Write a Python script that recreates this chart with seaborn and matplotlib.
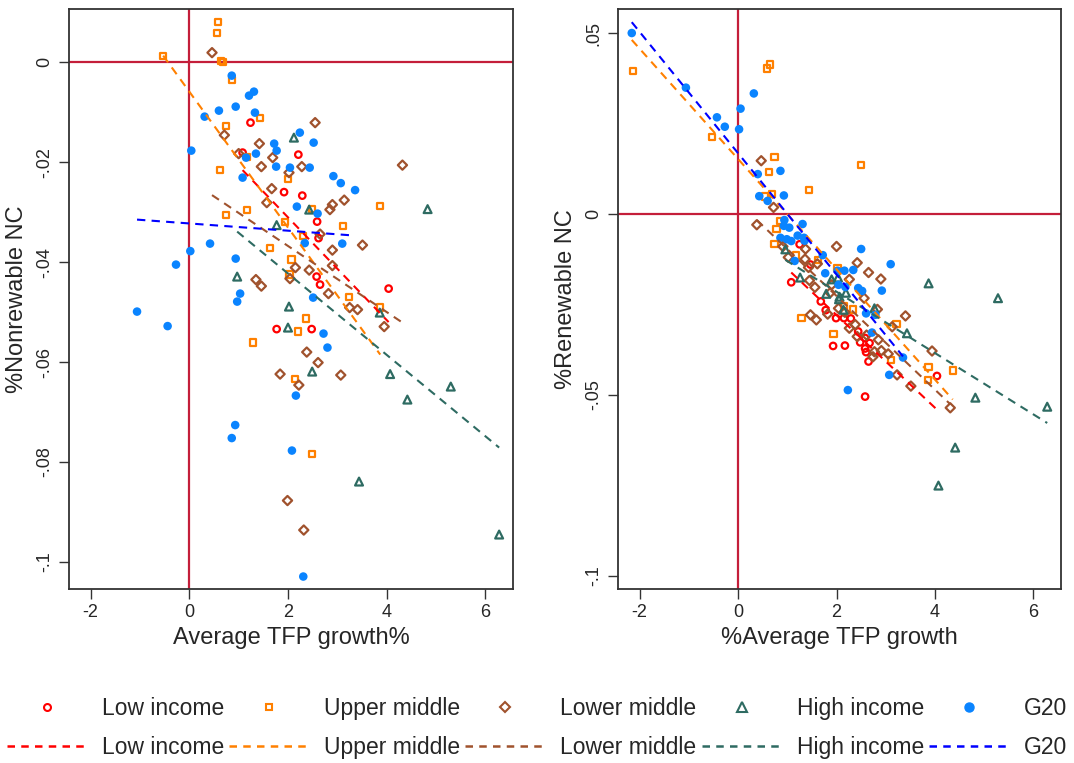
import numpy as np
import pandas as pd
import matplotlib
matplotlib.use("Agg")
import matplotlib.pyplot as plt
from matplotlib.lines import Line2D
import seaborn as sns

# ---- data ----
groups = ["Low income", "Upper middle", "Lower middle", "High income", "G20"]

# left panel: average TFP growth (%) vs %Nonrewable NC
low_l_x = [1.24, 1.08, 2.21, 1.92, 2.29, 2.59, 2.62, 2.58, 2.65, 4.04, 1.77, 2.48]
low_l_y = [-0.0121, -0.0181, -0.0185, -0.0260, -0.0267, -0.0319, -0.0352, -0.0429, -0.0445, -0.0453, -0.0534, -0.0534]

up_l_x = [-0.53, 0.58, 0.56, 0.64, 0.69, 0.87, 1.44, 0.75, 1.17, 0.62, 2.00, 1.17, 0.74, 2.49,
          1.94, 2.31, 1.63, 2.07, 2.03, 3.11, 3.87, 3.23, 3.87, 2.36, 2.20, 1.29, 2.14, 2.48]
up_l_y = [0.0013, 0.0080, 0.0059, 0.0003, 0.0000, -0.0035, -0.0112, -0.0127, -0.0190, -0.0216, -0.0234,
          -0.0295, -0.0305, -0.0294, -0.0319, -0.0347, -0.0372, -0.0395, -0.0425, -0.0328, -0.0287,
          -0.0470, -0.0491, -0.0513, -0.0539, -0.0561, -0.0634, -0.0784]

lm_l_x = [0.46, 0.71, 2.55, 1.42, 1.00, 1.69, 1.46, 2.28, 2.02, 4.32, 1.67, 1.57, 3.14, 2.90, 2.85, 2.65,
          3.51, 2.90, 2.15, 2.43, 2.04, 2.90, 1.35, 1.46, 2.82, 3.25, 3.41, 3.95, 2.38, 2.61, 1.84, 2.22,
          3.07, 1.99, 2.32]
lm_l_y = [0.0019, -0.0146, -0.0121, -0.0163, -0.0183, -0.0191, -0.0209, -0.0209, -0.0221, -0.0206,
          -0.0253, -0.0281, -0.0276, -0.0285, -0.0295, -0.0344, -0.0366, -0.0376, -0.0411, -0.0416,
          -0.0433, -0.0407, -0.0435, -0.0448, -0.0463, -0.0491, -0.0495, -0.0529, -0.0580, -0.0601,
          -0.0624, -0.0646, -0.0626, -0.0877, -0.0936]

hi_l_x = [2.12, 2.43, 1.77, 4.83, 0.97, 2.02, 2.00, 3.86, 2.49, 4.07, 5.30, 4.42, 3.44, 6.28]
hi_l_y = [-0.0151, -0.0295, -0.0326, -0.0294, -0.0429, -0.0489, -0.0531, -0.0501, -0.0619, -0.0624,
          -0.0649, -0.0675, -0.0839, -0.0945]

g20_l_x = [0.86, 1.21, 1.31, 0.31, 0.60, 0.94, 1.33, 2.24, 2.52, 0.04, 1.72, 1.77, 1.15, 1.35, 1.76,
           2.04, 2.44, 1.08, 2.92, 3.07, 3.36, 2.18, 2.60, 2.34, 3.10, 0.42, 0.02, -0.27, 0.94, 1.03,
           0.97, 2.51, -1.06, -0.44, 2.72, 2.80, 2.16, 0.93, 0.86, 2.08, 2.31]
g20_l_y = [-0.0027, -0.0067, -0.0059, -0.0109, -0.0097, -0.0089, -0.0101, -0.0141, -0.0161, -0.0177,
           -0.0163, -0.0177, -0.0191, -0.0183, -0.0209, -0.0211, -0.0211, -0.0231, -0.0228, -0.0242,
           -0.0256, -0.0289, -0.0303, -0.0362, -0.0363, -0.0363, -0.0378, -0.0405, -0.0393, -0.0463,
           -0.0479, -0.0471, -0.0499, -0.0528, -0.0543, -0.0571, -0.0667, -0.0726, -0.0752, -0.0777,
           -0.1029]

# linear fits (end points)
fit_l_x = {"Low income": [1.08, 4.04], "Upper middle": [-0.53, 3.87], "Lower middle": [0.46, 4.32],
           "High income": [0.97, 6.28], "G20": [-1.06, 3.36]}
fit_l_y = {"Low income": [-0.0216, -0.0520], "Upper middle": [0.0013, -0.0585], "Lower middle": [-0.0266, -0.0521],
           "High income": [-0.0339, -0.0771], "G20": [-0.0315, -0.0347]}

# right panel: %Average TFP growth vs %Renewable NC
low_r_x = [1.25, 1.08, 1.47, 1.68, 1.78, 1.99, 2.15, 2.29, 1.93, 2.17, 2.44, 2.48, 2.58, 2.60, 2.67,
           2.58, 2.65, 4.04, 2.58]
low_r_y = [-0.0084, -0.0189, -0.0140, -0.0242, -0.0266, -0.0288, -0.0288, -0.0289, -0.0365, -0.0364,
           -0.0325, -0.0355, -0.0372, -0.0382, -0.0357, -0.0343, -0.0408, -0.0448, -0.0505]

up_r_x = [-2.13, 0.58, 0.65, -0.53, 0.74, 0.63, 2.49, 1.44, 0.55, 0.69, 0.86, 0.78, 0.74, 1.17, 1.63,
          2.02, 2.15, 2.34, 1.29, 1.94, 3.22, 3.10, 3.87, 3.86, 4.36]
up_r_y = [0.0396, 0.0402, 0.0413, 0.0212, 0.0158, 0.0115, 0.0135, 0.0067, 0.0048, 0.0055, -0.0020,
          -0.0041, -0.0083, -0.0115, -0.0128, -0.0149, -0.0254, -0.0264, -0.0288, -0.0332, -0.0305,
          -0.0404, -0.0424, -0.0459, -0.0433]

lm_r_x = [0.47, 0.72, 0.38, 0.91, 1.37, 2.00, 1.02, 1.36, 1.61, 2.42, 1.43, 2.26, 2.65, 2.90, 1.45,
          1.56, 1.87, 1.90, 2.56, 2.83, 1.47, 1.59, 1.82, 2.04, 2.17, 2.38, 2.26, 2.61, 2.42, 2.85,
          2.77, 3.40, 3.13, 2.91, 3.05, 2.74, 3.94, 3.23, 3.51, 4.31]
lm_r_y = [0.0147, 0.0018, -0.0030, -0.0090, -0.0097, -0.0090, -0.0120, -0.0125, -0.0138, -0.0135,
          -0.0148, -0.0181, -0.0162, -0.0180, -0.0184, -0.0203, -0.0218, -0.0196, -0.0233, -0.0264,
          -0.0279, -0.0293, -0.0277, -0.0261, -0.0272, -0.0306, -0.0316, -0.0335, -0.0339, -0.0348,
          -0.0381, -0.0282, -0.0312, -0.0378, -0.0387, -0.0395, -0.0379, -0.0445, -0.0476, -0.0536]

hi_r_x = [0.96, 1.26, 1.90, 1.79, 2.03, 2.06, 2.19, 2.05, 2.14, 2.77, 3.43, 3.87, 5.28, 4.82, 6.28,
          4.41, 4.07]
hi_r_y = [-0.0098, -0.0176, -0.0181, -0.0221, -0.0176, -0.0229, -0.0218, -0.0236, -0.0265, -0.0261,
          -0.0330, -0.0192, -0.0233, -0.0508, -0.0533, -0.0646, -0.0751]

g20_r_x = [-2.16, -1.06, 0.32, 0.05, -0.43, -0.27, 0.02, 0.86, 0.40, 0.43, 0.93, 0.60, 0.94, 1.31,
           0.93, 1.04, 0.86, 0.99, 1.08, 1.21, 1.34, 1.35, 1.15, 1.72, 2.50, 3.10, 1.77, 2.02, 2.16,
           2.34, 2.04, 2.18, 2.44, 2.52, 2.92, 2.60, 2.79, 2.72, 3.35, 3.07, 2.23]
g20_r_y = [0.0500, 0.0349, 0.0333, 0.0291, 0.0267, 0.0241, 0.0234, 0.0119, 0.0110, 0.0049, 0.0051,
           0.0036, -0.0017, -0.0028, -0.0033, -0.0038, -0.0066, -0.0070, -0.0075, -0.0060, -0.0066,
           -0.0074, -0.0130, -0.0114, -0.0097, -0.0139, -0.0164, -0.0157, -0.0157, -0.0155, -0.0196,
           -0.0202, -0.0205, -0.0213, -0.0212, -0.0275, -0.0279, -0.0328, -0.0397, -0.0445, -0.0487]

fit_r_x = {"Low income": [1.08, 4.04], "Upper middle": [-2.16, 4.36], "Lower middle": [0.38, 4.31],
           "High income": [0.96, 6.28], "G20": [-2.16, 3.35]}
fit_r_y = {"Low income": [-0.0162, -0.0541], "Upper middle": [0.0481, -0.0513], "Lower middle": [-0.0017, -0.0526],
           "High income": [-0.0127, -0.0578], "G20": [0.0530, -0.0394]}

left_yticks = [0, -0.02, -0.04, -0.06, -0.08, -0.1]
left_ylabels = ["0", "-.02", "-.04", "-.06", "-.08", "-.1"]
right_yticks = [0.05, 0, -0.05, -0.1]
right_ylabels = [".05", "0", "-.05", "-.1"]
xticks = [-2, 0, 2, 4, 6]

# ---- styling ----
colors = {"Low income": "#FF0000", "Upper middle": "#FF8000", "Lower middle": "#A0522D",
          "High income": "#2E6B62", "G20": "#0A84FF"}
line_colors = {"Low income": "#FF0000", "Upper middle": "#FF8000", "Lower middle": "#A0522D",
               "High income": "#2E6B62", "G20": "#0000FF"}
markers = {"Low income": "o", "Upper middle": "s", "Lower middle": "D", "High income": "^", "G20": "o"}
msize = {"Low income": 22, "Upper middle": 20, "Lower middle": 22, "High income": 32, "G20": 38}
leg_msize = {"Low income": 5, "Upper middle": 5, "Lower middle": 5, "High income": 6.5, "G20": 6.5}
ref_color = "#C41E3A"


def make_df(xs, ys):
    frames = []
    for g, x, y in zip(groups, xs, ys):
        frames.append(pd.DataFrame({"x": x, "y": y, "group": g}))
    return pd.concat(frames, ignore_index=True)


left_df = make_df([low_l_x, up_l_x, lm_l_x, hi_l_x, g20_l_x], [low_l_y, up_l_y, lm_l_y, hi_l_y, g20_l_y])
right_df = make_df([low_r_x, up_r_x, lm_r_x, hi_r_x, g20_r_x], [low_r_y, up_r_y, lm_r_y, hi_r_y, g20_r_y])

sns.set_style("white")
plt.rcParams["font.family"] = ["Liberation Sans", "DejaVu Sans"]

fig = plt.figure(figsize=(10.74, 7.63), dpi=100)
ax1 = fig.add_axes([0.0642, 0.228, 0.4134, 0.760])
ax2 = fig.add_axes([0.5754, 0.228, 0.4125, 0.760])


def draw_panel(ax, df, fit_x, fit_y, yticks, ylabels, ylim, xlabel, ylabel):
    ax.axvline(0, color=ref_color, lw=1.6, zorder=1)
    ax.axhline(0, color=ref_color, lw=1.6, zorder=1)
    for g in groups:
        sub = df[df["group"] == g]
        if g == "G20":
            sns.scatterplot(data=sub, x="x", y="y", ax=ax, marker=markers[g], s=msize[g],
                            color=colors[g], edgecolor="none", linewidth=0, zorder=3)
        else:
            sns.scatterplot(data=sub, x="x", y="y", ax=ax, marker=markers[g], s=msize[g],
                            facecolor="none", edgecolor=colors[g], linewidth=1.6, zorder=3)
    for g in groups:
        fit = pd.DataFrame({"x": fit_x[g], "y": fit_y[g]})
        sns.lineplot(data=fit, x="x", y="y", ax=ax, color=line_colors[g], lw=1.5,
                     dashes=False, zorder=4)
        ax.lines[-1].set_dashes([4, 3])
    ax.set_xlim(-2.44, 6.56)
    ax.set_ylim(*ylim)
    ax.set_xticks(xticks)
    ax.set_xticklabels([str(t) for t in xticks], fontsize=13)
    ax.set_yticks(yticks)
    ax.set_yticklabels(ylabels, fontsize=13, rotation=90, va="center")
    ax.tick_params(axis="both", length=7, width=1, color="#333333", direction="out",
                   bottom=True, left=True, top=False, right=False, pad=4)
    ax.set_xlabel(xlabel, fontsize=17, labelpad=4)
    ax.set_ylabel(ylabel, fontsize=17, labelpad=6)
    for sp in ax.spines.values():
        sp.set_color("#333333")
        sp.set_linewidth(1.3)


draw_panel(ax1, left_df, fit_l_x, fit_l_y, left_yticks, left_ylabels, (-0.1054, 0.0106),
           "Average TFP growth%", "%Nonrewable NC")
draw_panel(ax2, right_df, fit_r_x, fit_r_y, right_yticks, right_ylabels, (-0.1037, 0.0566),
           "%Average TFP growth", "%Renewable NC")

# legend: markers on top row, fit lines on bottom row
handles, labels = [], []
for g in groups:
    if g == "G20":
        h = Line2D([], [], linestyle="none", marker="o", markersize=leg_msize[g],
                   markerfacecolor=colors[g], markeredgecolor=colors[g])
    else:
        h = Line2D([], [], linestyle="none", marker=markers[g], markersize=leg_msize[g],
                   markerfacecolor="none", markeredgecolor=colors[g], markeredgewidth=1.5)
    handles.append(h)
    labels.append(g)
    handles.append(Line2D([], [], color=line_colors[g], lw=1.8, dashes=[3, 2.5]))
    labels.append(g)

fig.legend(handles, labels, ncol=5, loc="center", bbox_to_anchor=(0.5, 0.046), frameon=False,
           fontsize=16.5, handlelength=3.5, handletextpad=0.65, columnspacing=0.22,
           labelspacing=0.72)

fig.savefig("out.png", dpi=100)
